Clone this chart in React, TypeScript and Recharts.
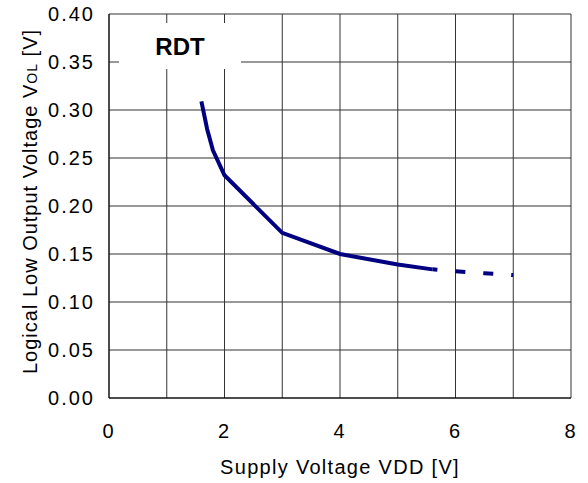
import { LineChart, Line, XAxis, YAxis, CartesianGrid, ReferenceArea } from "recharts";

// VOL vs VDD (RDT variant)
const vddSolid = [1.6, 1.7, 1.8, 2, 3, 4, 5, 5.6];
const volSolid = [0.309, 0.28, 0.258, 0.232, 0.172, 0.15, 0.139, 0.134];
const vddDashed = [5.6, 6, 6.5, 7];
const volDashed = [0.134, 0.132, 0.13, 0.128];

const xTicks = [0, 1, 2, 3, 4, 5, 6, 7, 8];
const yTicks = [0, 0.05, 0.1, 0.15, 0.2, 0.25, 0.3, 0.35, 0.4];

const solid = vddSolid.map((vdd, i) => ({ vdd, vol: volSolid[i] }));
const dashed = vddDashed.map((vdd, i) => ({ vdd, vol: volDashed[i] }));

const FONT = "'Liberation Sans', Arial, sans-serif";
const NAVY = "#000080";

function YTitle(props: any) {
  const vb = props.viewBox || { x: 0, y: 14, width: 109, height: 384 };
  const x = vb.x + 37;
  const y = vb.y + vb.height / 2 - 4.5;
  return (
    <text
      x={x}
      y={y}
      transform={`rotate(-90 ${x} ${y})`}
      textAnchor="middle"
      fill="#000"
      style={{ fontFamily: FONT, fontSize: 20, letterSpacing: 1 }}
    >
      Logical Low Output Voltage V<tspan style={{ fontSize: 14 }}>OL</tspan> [V]
    </text>
  );
}

function BoxLabel(props: any) {
  const vb = props.viewBox;
  if (!vb) return null;
  return (
    <text
      x={vb.x + vb.width / 2}
      y={vb.y + vb.height / 2 + 8.5}
      textAnchor="middle"
      fill="#000"
      style={{ fontFamily: FONT, fontSize: 24, fontWeight: "bold" }}
    >
      RDT
    </text>
  );
}

export default function App() {
  return (
    <div style={{ position: "absolute", left: 0, top: 0, width: 588, height: 483, background: "#fff" }}>
      <LineChart
        width={588}
        height={483}
        margin={{ top: 14, right: 17, left: 0, bottom: 0 }}
        style={{ fontFamily: FONT }}
      >
        <CartesianGrid stroke="#333" strokeWidth={1} />
        <XAxis
          dataKey="vdd"
          type="number"
          domain={[0, 8]}
          ticks={xTicks}
          tickFormatter={(v: number) => (v % 2 === 0 ? String(v) : "")}
          allowDuplicatedCategory={false}
          height={85}
          tickLine={false}
          tickSize={0}
          tickMargin={26}
          axisLine={{ stroke: "#000" }}
          tick={{ fill: "#000", fontSize: 20, style: { letterSpacing: 2 } }}
          label={{
            value: "Supply Voltage VDD [V]",
            position: "insideBottom",
            offset: 9,
            fill: "#000",
            fontSize: 20,
            style: { letterSpacing: 1.3 },
          }}
        />
        <YAxis
          type="number"
          domain={[0, 0.4]}
          ticks={yTicks}
          tickFormatter={(v: number) => v.toFixed(2)}
          width={109}
          tickLine={false}
          tickSize={0}
          tickMargin={14}
          axisLine={{ stroke: "#000" }}
          tick={{ fill: "#000", fontSize: 20, style: { letterSpacing: 2 } }}
          label={<YTitle />}
        />
        <ReferenceArea
          x1={0.173}
          x2={2.286}
          y1={0.3427}
          y2={0.3906}
          fill="#fff"
          fillOpacity={1}
          stroke="none"
          label={<BoxLabel />}
        />
        <Line
          data={solid}
          dataKey="vol"
          stroke={NAVY}
          strokeWidth={4}
          dot={false}
          activeDot={false}
          isAnimationActive={false}
        />
        <Line
          data={dashed}
          dataKey="vol"
          stroke={NAVY}
          strokeWidth={4}
          strokeDasharray="10 18"
          strokeDashoffset={5}
          dot={false}
          activeDot={false}
          isAnimationActive={false}
        />
      </LineChart>
    </div>
  );
}
